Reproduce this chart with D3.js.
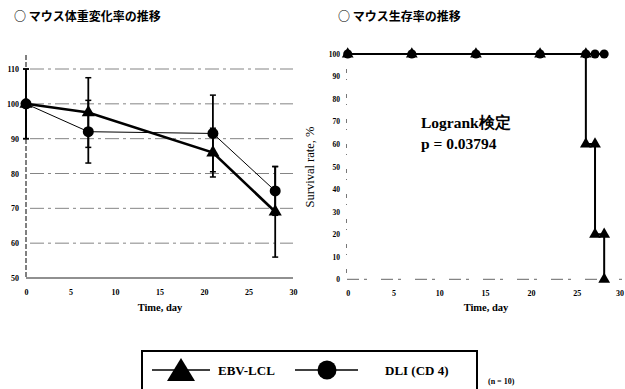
<!DOCTYPE html>
<html><head><meta charset="utf-8">
<script src="https://cdn.jsdelivr.net/npm/d3@7"></script>
<style>body{margin:0;background:#fff}svg{display:block}</style>
</head><body>
<svg id="c" width="625" height="389"></svg>
<script>
// ---- data ----
const weightDays = [0, 7, 21, 28];
const ebvWeight = [100, 97.5, 86, 69];
const ebvWeightErr = [10, 10, 7, 13];
const dliWeight = [100, 92, 91.5, 75];
const dliWeightErr = [10, 9, 11, 7];
const weightTicksY = [50, 60, 70, 80, 90, 100, 110];
const dayTicks = [0, 5, 10, 15, 20, 25, 30];

const survDays = [0, 7, 14, 21, 26, 27, 28];
const ebvSurv = [100, 100, 100, 100, 60, 20, 0];
const dliSurv = [100, 100, 100, 100, 100, 100, 100];
const survTicksY = [0, 10, 20, 30, 40, 50, 60, 70, 80, 90, 100];

const titleLeft = "○ マウス体重変化率の推移";
const titleRight = "○ マウス生存率の推移";
const xLabel = "Time, day";
const yLabelRight = "Survival rate, %";
const statLine1 = "Logrank検定";
const statLine2 = "p = 0.03794";
const seriesNames = ["EBV-LCL", "DLI (CD 4)"];
const nNote = "(n = 10)";

const svg = d3.select("#c");
const serif = "'Liberation Serif','Times New Roman',serif";
const jp = "'Noto Sans CJK JP','Noto Sans',sans-serif";

function tri(g, x, y, s) {
  g.append("path").attr("d", d3.symbol(d3.symbolTriangle, s)()).attr("transform", `translate(${x},${y})`).attr("fill", "#000");
}
function circ(g, x, y, r) {
  g.append("circle").attr("cx", x).attr("cy", y).attr("r", r).attr("fill", "#000");
}

// titles
svg.append("text").attr("x", 14).attr("y", 21).attr("font-family", jp).attr("font-weight", "bold").attr("font-size", 12).text(titleLeft);
svg.append("text").attr("x", 338).attr("y", 21).attr("font-family", jp).attr("font-weight", "bold").attr("font-size", 12).text(titleRight);

// ---- left chart ----
const xL = d3.scaleLinear([0, 30], [26, 293]);
const yL = d3.scaleLinear([50, 110], [278, 69]);
const L = svg.append("g");
L.selectAll("line.g").data(weightTicksY.filter(d => d > 50)).join("line")
  .attr("x1", 30).attr("x2", 293).attr("y1", d => yL(d)).attr("y2", d => yL(d))
  .attr("stroke", "#666").attr("stroke-width", 0.8).attr("stroke-dasharray", "14,4,3,4");
L.append("line").attr("x1", 26).attr("x2", 26).attr("y1", 55).attr("y2", 278).attr("stroke", "#000").attr("stroke-width", 1).attr("stroke-dasharray", "5,2");
L.append("line").attr("x1", 26).attr("x2", 293).attr("y1", 278).attr("y2", 278).attr("stroke", "#222").attr("stroke-width", 1.2);
const axYL = d3.axisLeft(yL).tickValues(weightTicksY).tickSize(0).tickPadding(7);
L.append("g").attr("transform", "translate(26,0)").call(axYL).call(g => g.select(".domain").remove())
  .selectAll("text").attr("font-family", serif).attr("font-weight", "bold").attr("font-size", 8).attr("fill", "#000");
const axXL = d3.axisBottom(xL).tickValues(dayTicks).tickSize(0).tickPadding(11);
L.append("g").attr("transform", "translate(0,278)").call(axXL).call(g => g.select(".domain").remove())
  .selectAll("text").attr("font-family", serif).attr("font-weight", "bold").attr("font-size", 8).attr("fill", "#000");
L.append("text").attr("x", 160).attr("y", 311).attr("text-anchor", "middle").attr("font-family", serif).attr("font-weight", "bold").attr("font-size", 10.5).text(xLabel);

function errBars(vals, errs) {
  weightDays.forEach((d, i) => {
    const x = xL(d), y1 = yL(vals[i] + errs[i]), y2 = yL(vals[i] - errs[i]);
    L.append("line").attr("x1", x).attr("x2", x).attr("y1", y1).attr("y2", y2).attr("stroke", "#000").attr("stroke-width", 1.8);
    [y1, y2].forEach(yy => L.append("line").attr("x1", x - 3).attr("x2", x + 3).attr("y1", yy).attr("y2", yy).attr("stroke", "#000").attr("stroke-width", 1.5));
  });
}
errBars(dliWeight, dliWeightErr);
errBars(ebvWeight, ebvWeightErr);
const lineL = d3.line().x((d, i) => xL(weightDays[i])).y(d => yL(d));
L.append("path").datum(dliWeight).attr("d", lineL).attr("fill", "none").attr("stroke", "#000").attr("stroke-width", 1);
L.append("path").datum(ebvWeight).attr("d", lineL).attr("fill", "none").attr("stroke", "#000").attr("stroke-width", 2.6);
dliWeight.forEach((v, i) => circ(L, xL(weightDays[i]), yL(v), 5.5));
ebvWeight.forEach((v, i) => tri(L, xL(weightDays[i]), yL(v), 75));

// ---- right chart ----
const xR = d3.scaleLinear([0, 30], [347.7, 622.5]);
const yR = d3.scaleLinear([0, 100], [279.3, 54]);
const R = svg.append("g");
R.append("line").attr("x1", 346.5).attr("x2", 346.5).attr("y1", 54).attr("y2", 279).attr("stroke", "#555").attr("stroke-width", 0.8).attr("stroke-dasharray", "1,14,4,6");
R.append("line").attr("x1", 347).attr("x2", 622).attr("y1", yR(0)).attr("y2", yR(0)).attr("stroke", "#555").attr("stroke-width", 0.9).attr("stroke-dasharray", "12,5,3,14");
const axYR = d3.axisLeft(yR).tickValues(survTicksY).tickSize(0).tickPadding(6);
R.append("g").attr("transform", "translate(346,0)").call(axYR).call(g => g.select(".domain").remove())
  .selectAll("text").attr("font-family", serif).attr("font-weight", "bold").attr("font-size", 7.5).attr("fill", "#000");
const axXR = d3.axisBottom(xR).tickValues(dayTicks).tickSize(0).tickPadding(11);
R.append("g").attr("transform", `translate(0,${yR(0)})`).call(axXR).call(g => g.select(".domain").remove())
  .selectAll("text").attr("font-family", serif).attr("font-weight", "bold").attr("font-size", 8).attr("fill", "#000")
  .attr("dx", d => d === 30 ? -3 : 0);
R.append("text").attr("x", 486).attr("y", 311).attr("text-anchor", "middle").attr("font-family", serif).attr("font-weight", "bold").attr("font-size", 10.5).text(xLabel);
R.append("text").attr("transform", "translate(314,167) rotate(-90)").attr("text-anchor", "middle").attr("font-family", serif).attr("font-size", 12.5).text(yLabelRight);
R.append("text").attr("x", 421).attr("y", 128).attr("font-family", serif).attr("font-weight", "bold").attr("font-size", 15.5).text(statLine1);
R.append("text").attr("x", 421).attr("y", 149).attr("font-family", serif).attr("font-weight", "bold").attr("font-size", 15.5).text(statLine2);

const stepLine = d3.line().curve(d3.curveStepAfter).x((d, i) => xR(survDays[i])).y(d => yR(d));
R.append("path").datum(dliSurv).attr("d", stepLine).attr("fill", "none").attr("stroke", "#000").attr("stroke-width", 2);
R.append("path").datum(ebvSurv).attr("d", stepLine).attr("fill", "none").attr("stroke", "#000").attr("stroke-width", 2);
dliSurv.forEach((v, i) => circ(R, xR(survDays[i]), yR(v), 4.5));
ebvSurv.forEach((v, i) => {
  const prev = i > 0 ? ebvSurv[i - 1] : v;
  if (prev !== v) tri(R, xR(survDays[i]), yR(prev), 60);
  tri(R, xR(survDays[i]), yR(v), 60);
});

// ---- legend ----
const Lg = svg.append("g");
Lg.append("rect").attr("x", 142).attr("y", 351).attr("width", 335).attr("height", 50).attr("fill", "none").attr("stroke", "#000").attr("stroke-width", 2);
Lg.append("line").attr("x1", 152).attr("x2", 210).attr("y1", 370).attr("y2", 370).attr("stroke", "#000").attr("stroke-width", 1.5);
Lg.append("path").attr("d", "M181,358 L195,381 L167,381 Z").attr("fill", "#000");
Lg.append("text").attr("x", 218).attr("y", 375).attr("font-family", serif).attr("font-weight", "bold").attr("font-size", 13).text(seriesNames[0]);
Lg.append("line").attr("x1", 295).attr("x2", 358).attr("y1", 370).attr("y2", 370).attr("stroke", "#000").attr("stroke-width", 1.5);
circ(Lg, 327, 370, 9.5);
Lg.append("text").attr("x", 385).attr("y", 375).attr("font-family", serif).attr("font-weight", "bold").attr("font-size", 13).text(seriesNames[1]);
svg.append("text").attr("x", 488).attr("y", 384).attr("font-family", serif).attr("font-weight", "bold").attr("font-size", 8).text(nNote);
</script>
</body></html>
